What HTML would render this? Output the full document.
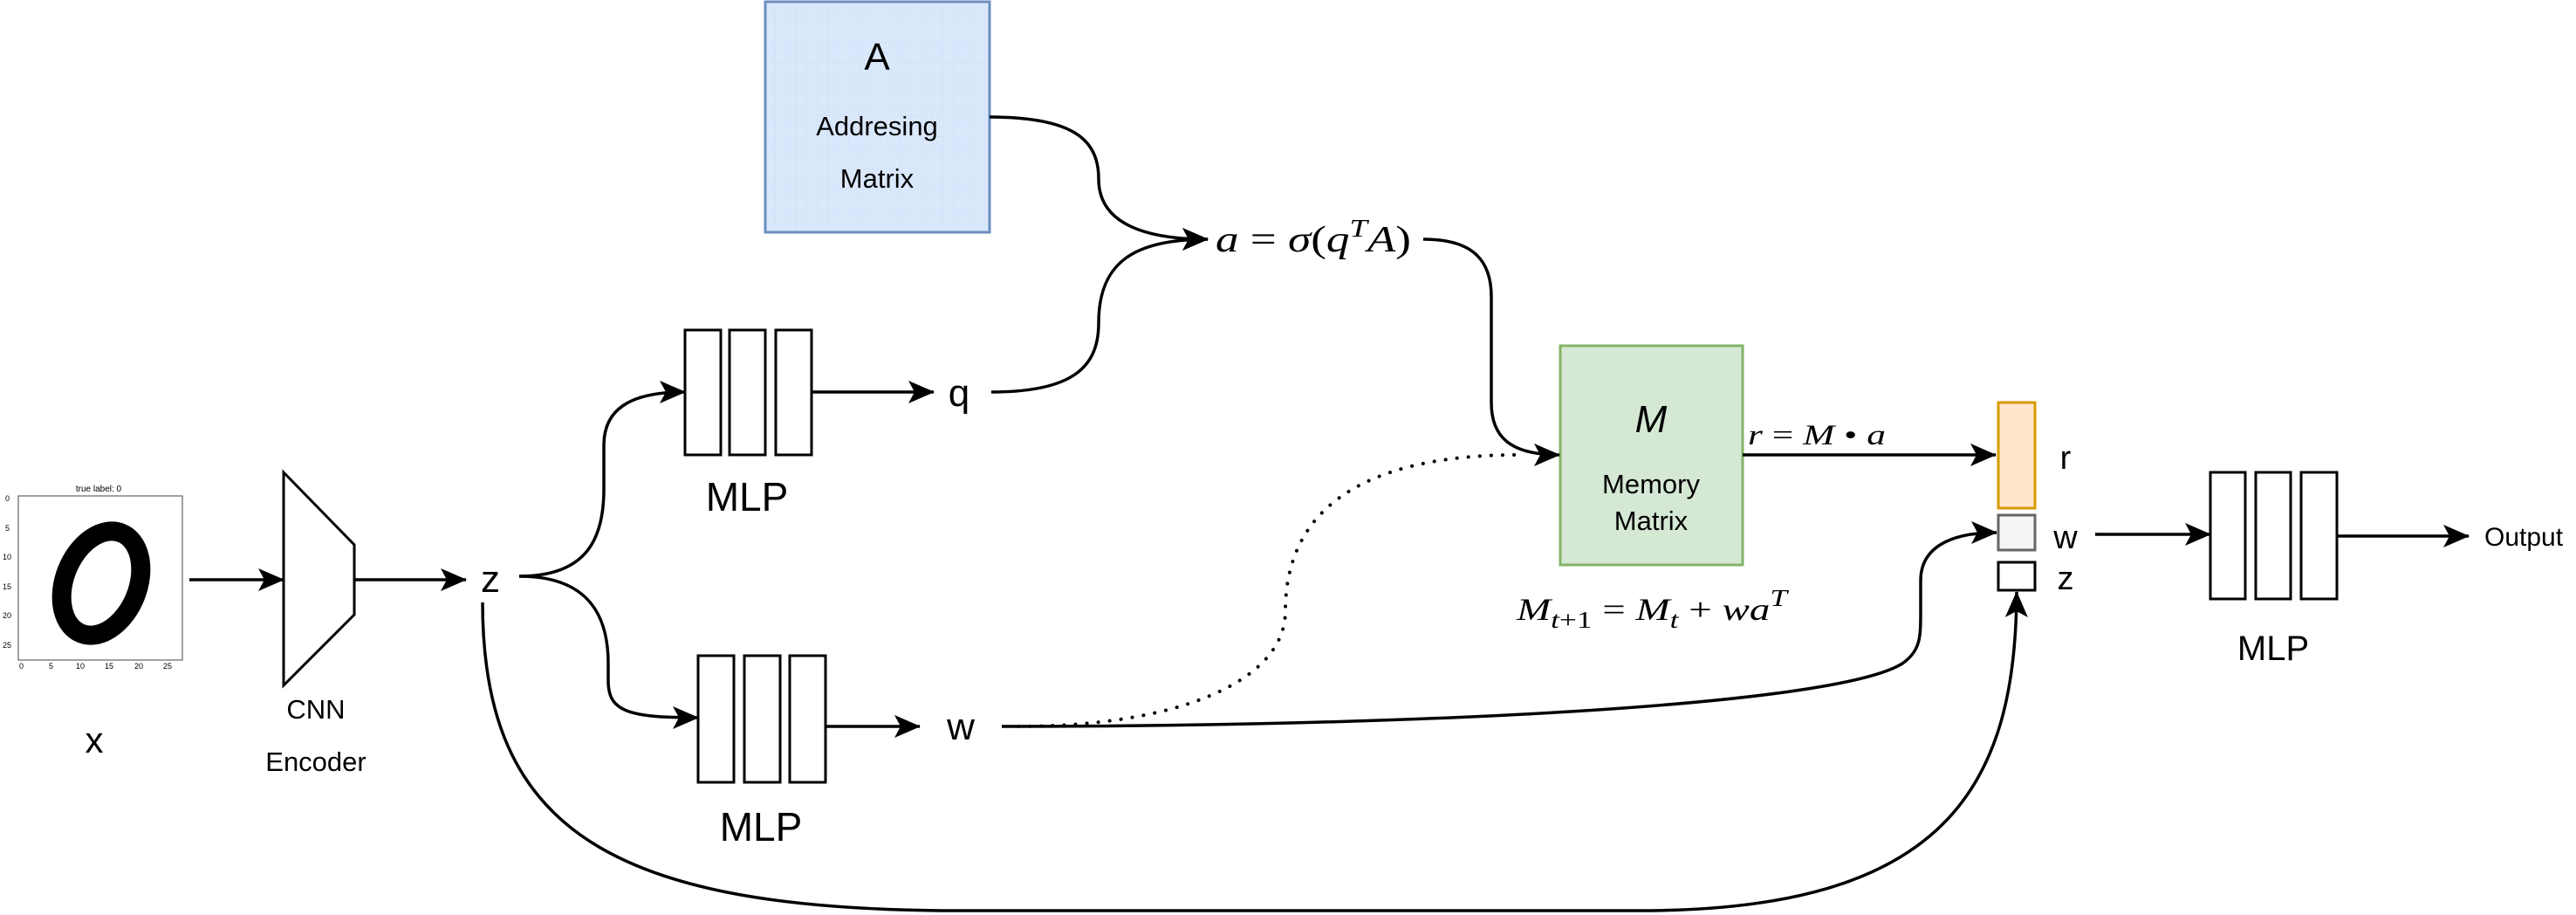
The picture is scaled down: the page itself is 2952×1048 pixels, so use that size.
<!DOCTYPE html>
<html><head><meta charset="utf-8"><style>
html,body{margin:0;padding:0;background:#fff;}
svg{display:block;}
.s{font-family:"Liberation Sans",sans-serif;fill:#000;}
.m{font-family:"Liberation Serif",serif;font-style:italic;fill:#000;}
</style></head><body>
<svg width="2952" height="1048" viewBox="0 0 2952 1048" xmlns="http://www.w3.org/2000/svg">
<defs>
<marker id="ar" viewBox="0 0 30 26" refX="29" refY="13" markerWidth="30" markerHeight="26" markerUnits="userSpaceOnUse" orient="auto">
<path d="M0,0 L30,13 L0,26 L7,13 Z" fill="#000"/>
</marker>
<pattern id="grid" width="12" height="12" patternUnits="userSpaceOnUse"><path d="M12,0 L0,0 0,12" fill="none" stroke="#c8d8ee" stroke-width="1"/></pattern>
</defs>

<rect x="877" y="2" width="257" height="264" fill="#dae8fc" stroke="#6c8ebf" stroke-width="3"/>
<rect x="879" y="4" width="253" height="260" fill="url(#grid)" opacity="0.6"/>
<text class="s" x="1005" y="80" font-size="44" text-anchor="middle">A</text>
<text class="s" x="1005" y="155" font-size="31" text-anchor="middle">Addresing</text>
<text class="s" x="1005" y="215" font-size="31" text-anchor="middle">Matrix</text>

<text class="s" x="113" y="563" font-size="10" text-anchor="middle">true label: 0</text>
<rect x="21" y="568" width="188" height="188" fill="#fff" stroke="#444" stroke-width="1"/>
<g class="s" font-size="9">
<text x="6" y="574">0</text><text x="6" y="608">5</text><text x="3" y="641">10</text><text x="3" y="675">15</text><text x="3" y="708">20</text><text x="3" y="742">25</text>
<text x="22" y="766">0</text><text x="56" y="766">5</text><text x="87" y="766">10</text><text x="120" y="766">15</text><text x="154" y="766">20</text><text x="187" y="766">25</text>
</g>
<ellipse cx="116" cy="668" rx="42" ry="62" transform="rotate(22 116 668)" fill="none" stroke="#000" stroke-width="22"/>
<text class="s" x="108" y="862" font-size="42" text-anchor="middle">x</text>

<path d="M325,541 L406,624 L406,704 L325,785 Z" fill="#fff" stroke="#000" stroke-width="3"/>
<text class="s" x="362" y="823" font-size="31" text-anchor="middle">CNN</text>
<text class="s" x="362" y="883" font-size="31" text-anchor="middle">Encoder</text>

<text class="s" x="562" y="678" font-size="44" text-anchor="middle">z</text>

<g fill="#fff" stroke="#000" stroke-width="3">
<rect x="785" y="378" width="41" height="143"/><rect x="836" y="378" width="41" height="143"/><rect x="889" y="378" width="41" height="143"/>
<rect x="800" y="751" width="41" height="145"/><rect x="853" y="751" width="41" height="145"/><rect x="905" y="751" width="41" height="145"/>
<rect x="2533" y="541" width="40" height="145"/><rect x="2585" y="541" width="40" height="145"/><rect x="2637" y="541" width="41" height="145"/>
</g>
<text class="s" x="856" y="585" font-size="46" text-anchor="middle">MLP</text>
<text class="s" x="872" y="963" font-size="46" text-anchor="middle">MLP</text>
<text class="s" x="2605" y="756" font-size="40" text-anchor="middle">MLP</text>

<text class="s" x="1099" y="465" font-size="44" text-anchor="middle">q</text>
<text class="s" x="1101" y="847" font-size="44" text-anchor="middle">w</text>

<text class="m" x="1393" y="288" font-size="42" textLength="224" lengthAdjust="spacingAndGlyphs">a <tspan font-style="normal">=</tspan> σ<tspan font-style="normal">(</tspan>q<tspan dy="-17" font-size="29">T</tspan><tspan dy="17">A</tspan><tspan font-style="normal">)</tspan></text>

<rect x="1788" y="396" width="209" height="251" fill="#d5e8d4" stroke="#82b366" stroke-width="3"/>
<text class="s" x="1892" y="495" font-size="44" font-style="italic" text-anchor="middle">M</text>
<text class="s" x="1892" y="565" font-size="31" text-anchor="middle">Memory</text>
<text class="s" x="1892" y="607" font-size="31" text-anchor="middle">Matrix</text>
<text class="m" x="2003" y="509" font-size="33" textLength="158" lengthAdjust="spacingAndGlyphs">r <tspan font-style="normal">=</tspan> M <tspan font-style="normal">•</tspan> a</text>
<text class="m" x="1738" y="710" font-size="36" textLength="310" lengthAdjust="spacingAndGlyphs">M<tspan dy="9" font-size="27">t<tspan font-style="normal">+1</tspan></tspan><tspan dy="-9" font-style="normal"> = </tspan>M<tspan dy="9" font-size="27">t</tspan><tspan dy="-9" font-style="normal"> + </tspan>wa<tspan dy="-16" font-size="27">T</tspan></text>

<rect x="2290" y="461" width="42" height="121" fill="#ffe6cc" stroke="#d79b00" stroke-width="3"/>
<rect x="2290" y="590" width="42" height="40" fill="#f5f5f5" stroke="#666" stroke-width="3"/>
<rect x="2290" y="644" width="42" height="32" fill="#fff" stroke="#000" stroke-width="3"/>
<text class="s" x="2367" y="537" font-size="38" text-anchor="middle">r</text>
<text class="s" x="2367" y="628" font-size="38" text-anchor="middle">w</text>
<text class="s" x="2367" y="675" font-size="38" text-anchor="middle">z</text>
<text class="s" x="2847" y="625" font-size="30">Output</text>

<g fill="none" stroke="#000" stroke-width="3.5" marker-end="url(#ar)">
<path d="M1134,134 C1230,134 1259,160 1259,205 C1259,250 1300,274 1384,274"/>
<path d="M1136,449 C1230,449 1259,420 1259,370 C1259,300 1300,274 1384,274"/>
<path d="M1631,274 C1690,274 1709,300 1709,340 L1709,461 C1709,500 1730,521 1787,521"/>
<path d="M1997,521 L2287,521"/>
<path d="M595,660 C670,660 692,620 692,560 L692,510 C692,470 720,449 785,449"/>
<path d="M595,660 C670,660 697,700 697,760 L697,780 C697,815 720,822 800,822"/>
<path d="M930,449 L1070,449"/>
<path d="M946,832 L1054,832"/>
<path d="M1148,832 C1600,832 2100,810 2180,760 C2201,745 2201,730 2201,700 L2201,665 C2201,630 2230,610 2288,610"/>
<path d="M553,690 C553,950 700,1043 1100,1043 L1881,1043 C2230,1043 2310,900 2311,678"/>
<path d="M217,664 L325,664"/>
<path d="M406,664 L534,664"/>
<path d="M2401,612 L2533,612"/>
<path d="M2678,614 L2829,614"/>
</g>
<path d="M1167,832 C1350,832 1473,780 1473,700 C1473,560 1600,521 1740,521" fill="none" stroke="#000" stroke-width="4" stroke-dasharray="0.1 13" stroke-linecap="round"/>
</svg>
</body></html>
